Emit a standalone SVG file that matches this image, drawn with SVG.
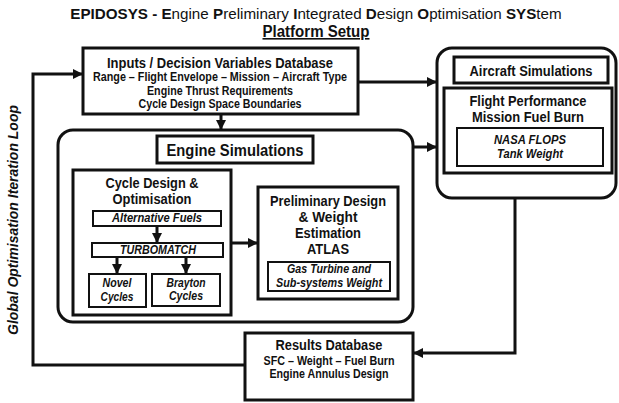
<svg xmlns="http://www.w3.org/2000/svg" width="619" height="403" viewBox="0 0 619 403">
<style>
text{font-family:"Liberation Sans",Arial,sans-serif;font-weight:bold;fill:#111;text-anchor:middle}
.it{font-style:italic}
.box{fill:#fff;stroke:#111;stroke-width:3}
.sub{fill:#fff;stroke:#111;stroke-width:2}
.con{fill:none;stroke:#111;stroke-width:3}
.n{font-weight:normal}
</style>
<defs>
<marker id="ah" markerUnits="userSpaceOnUse" markerWidth="10" markerHeight="10" viewBox="0 0 10 10" refX="10" refY="5" orient="auto">
<path d="M0,0 L10,5 L0,10 Z" fill="#111"/>
</marker>
</defs>

<g id="title">
<text x="316" y="19" font-size="15.2">EPIDOSYS - E<tspan class="n">ngine </tspan>P<tspan class="n">reliminary </tspan>I<tspan class="n">ntegrated </tspan>D<tspan class="n">esign </tspan>O<tspan class="n">ptimisation </tspan>SYS<tspan class="n">tem</tspan></text>
<text x="316" y="37" font-size="16" text-decoration="underline" textLength="107" lengthAdjust="spacingAndGlyphs">Platform Setup</text>
</g>

<g id="loop-label">
<text class="it" transform="translate(18,220) rotate(-90)" font-size="14" textLength="230" lengthAdjust="spacingAndGlyphs">Global Optimisation Iteration Loop</text>
</g>

<g id="inputs">
<rect class="box" x="83" y="48" width="275" height="66"/>
<text x="220" y="68" font-size="14" textLength="226" lengthAdjust="spacingAndGlyphs">Inputs / Decision Variables Database</text>
<text x="220" y="81" font-size="12" textLength="254" lengthAdjust="spacingAndGlyphs">Range – Flight Envelope – Mission – Aircraft Type</text>
<text x="220" y="95" font-size="12" textLength="146" lengthAdjust="spacingAndGlyphs">Engine Thrust Requirements</text>
<text x="220" y="108" font-size="12" textLength="163" lengthAdjust="spacingAndGlyphs">Cycle Design Space Boundaries</text>
</g>

<g id="aircraft">
<rect class="box" x="437" y="48" width="179" height="150" rx="15"/>
<rect class="box" x="454" y="57" width="154" height="26"/>
<text x="531" y="76" font-size="14" textLength="123" lengthAdjust="spacingAndGlyphs">Aircraft Simulations</text>
<rect class="box" x="444" y="88" width="168" height="85"/>
<text x="528" y="106" font-size="14" textLength="117" lengthAdjust="spacingAndGlyphs">Flight Performance</text>
<text x="528" y="122" font-size="14" textLength="112" lengthAdjust="spacingAndGlyphs">Mission Fuel Burn</text>
<rect class="sub" x="457" y="128" width="146" height="38"/>
<text class="it" x="530" y="144" font-size="12" textLength="72" lengthAdjust="spacingAndGlyphs">NASA FLOPS</text>
<text class="it" x="530" y="158" font-size="12" textLength="66" lengthAdjust="spacingAndGlyphs">Tank Weight</text>
</g>

<g id="engine">
<rect class="box" x="58" y="130" width="355" height="192" rx="15"/>
<rect class="box" x="157" y="136" width="156" height="27"/>
<text x="235" y="156" font-size="17" textLength="137" lengthAdjust="spacingAndGlyphs">Engine Simulations</text>
</g>

<g id="cycle">
<rect class="box" x="73" y="170" width="158" height="145"/>
<text x="152" y="188" font-size="14" textLength="93" lengthAdjust="spacingAndGlyphs">Cycle Design &amp;</text>
<text x="152" y="204" font-size="14" textLength="79" lengthAdjust="spacingAndGlyphs">Optimisation</text>
</g>

<g id="altfuels">
<rect class="sub" x="93" y="211" width="128" height="15"/>
<text class="it" x="157" y="222" font-size="12" textLength="90" lengthAdjust="spacingAndGlyphs">Alternative Fuels</text>
</g>

<g id="turbomatch">
<rect class="sub" x="92" y="243" width="131" height="14"/>
<text class="it" x="158" y="254" font-size="12" textLength="76" lengthAdjust="spacingAndGlyphs">TURBOMATCH</text>
</g>

<g id="novel">
<rect class="sub" x="89" y="274" width="57" height="33"/>
<text class="it" x="117" y="287" font-size="12" textLength="29" lengthAdjust="spacingAndGlyphs">Novel</text>
<text class="it" x="117" y="301" font-size="12" textLength="33" lengthAdjust="spacingAndGlyphs">Cycles</text>
</g>

<g id="brayton">
<rect class="sub" x="152" y="274" width="68" height="32"/>
<text class="it" x="186" y="287" font-size="12" textLength="39" lengthAdjust="spacingAndGlyphs">Brayton</text>
<text class="it" x="186" y="300" font-size="12" textLength="34" lengthAdjust="spacingAndGlyphs">Cycles</text>
</g>

<g id="prelim">
<rect class="box" x="258" y="187" width="140" height="112"/>
<text x="328" y="206" font-size="14" textLength="116" lengthAdjust="spacingAndGlyphs">Preliminary Design</text>
<text x="328" y="222" font-size="14" textLength="59" lengthAdjust="spacingAndGlyphs">&amp; Weight</text>
<text x="328" y="238" font-size="14" textLength="66" lengthAdjust="spacingAndGlyphs">Estimation</text>
<text x="328" y="254" font-size="14" textLength="42" lengthAdjust="spacingAndGlyphs">ATLAS</text>
<rect class="sub" x="268" y="262" width="122" height="29"/>
<text class="it" x="329" y="273" font-size="12" textLength="84" lengthAdjust="spacingAndGlyphs">Gas Turbine and</text>
<text class="it" x="329" y="287" font-size="12" textLength="106" lengthAdjust="spacingAndGlyphs">Sub-systems Weight</text>
</g>

<g id="results">
<rect class="box" x="245" y="333" width="168" height="67"/>
<text x="329" y="350" font-size="14" textLength="107" lengthAdjust="spacingAndGlyphs">Results Database</text>
<text x="329" y="365" font-size="12" textLength="131" lengthAdjust="spacingAndGlyphs">SFC – Weight – Fuel Burn</text>
<text x="329" y="378" font-size="12" textLength="119" lengthAdjust="spacingAndGlyphs">Engine Annulus Design</text>
</g>

<g id="connectors">
<path class="con" d="M221,114 V130" marker-end="url(#ah)"/>
<path class="con" d="M358,82 H437" marker-end="url(#ah)"/>
<path class="con" d="M413,147 H437" marker-end="url(#ah)"/>
<path class="con" d="M231,243 H258" marker-end="url(#ah)"/>
<path class="con" d="M157,226 V243" marker-end="url(#ah)"/>
<path class="con" d="M117,257 V274" marker-end="url(#ah)"/>
<path class="con" d="M186,257 V274" marker-end="url(#ah)"/>
<path class="con" d="M515,198 V353 H413" marker-end="url(#ah)"/>
<path class="con" d="M245,365 H33 V74 H83" marker-end="url(#ah)"/>
</g>
</svg>
